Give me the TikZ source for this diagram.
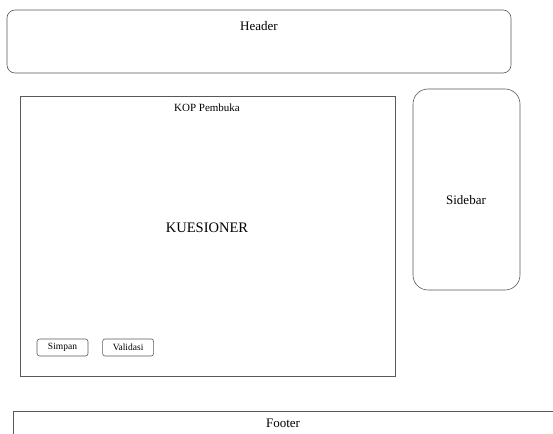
\documentclass[tikz,border=0pt]{standalone}
\usepackage{fontspec}
\setmainfont{Liberation Serif}
\usetikzlibrary{positioning}
\tikzset{
  panel/.style  = {rectangle, draw=black!65, semithick, minimum width=#1},
  roundp/.style = {panel=#1, rounded corners=8pt},
  tombol/.style = {rectangle, draw=black!65, semithick, rounded corners=2.5pt, minimum width=51pt, minimum height=17pt, inner sep=0, font=\fontsize{9.5}{10}\selectfont},
  et/.style     = {font=\fontsize{13}{15}\selectfont},
  small/.style  = {font=\fontsize{11}{13}\selectfont}
}

\begin{document}
\begin{tikzpicture}[x=1pt, y=-1pt]
  \useasboundingbox (0,0) rectangle (553,433);
  \clip (0,0) rectangle (553,433);
  % header
  \node[roundp=504pt, minimum height=63pt] (header) at (259,41.5) {};
  \node[et] (hdrlbl) at (259,26) {Header};
  % isi kuesioner
  \node[panel=375pt, minimum height=280pt] (isi) at (207.5,236) {};
  \node[small] (kop) at (207,108) {KOP Pembuka};
  \node[font=\fontsize{14.5}{17}\selectfont] (kues) at (207,228) {KUESIONER};
  \node[tombol] (simpan) at (62.5,347.5) {Simpan};
  \node[tombol, right=14pt of simpan] (validasi) {Validasi};
  % sidebar
  \node[panel=107pt, minimum height=201pt, rounded corners=15pt] (sidebar) at (466.5,189.5) {};
  \node[et] (sdblbl) at (466,200) {Sidebar};
  % footer
  \node[panel=560pt, minimum height=40pt, anchor=north west] (footer) at (13,411) {};
  \node[et] (ftrlbl) at (283,423) {Footer};
\end{tikzpicture}
\end{document}
